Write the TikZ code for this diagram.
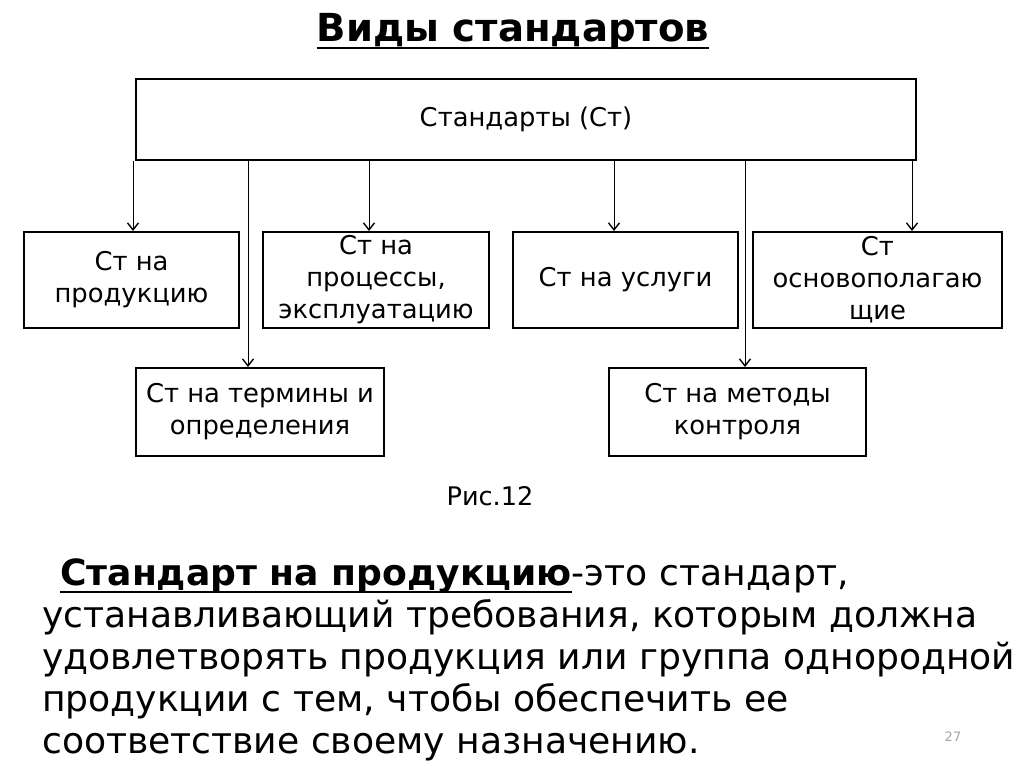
\documentclass[tikz,border=0pt]{standalone}
\usepackage{fontspec}
\setmainfont{DejaVu Sans}
\usetikzlibrary{arrows.meta}
\begin{document}
\begin{tikzpicture}[x=1pt,y=-1pt,
  box/.style={draw=black,line width=2pt,inner sep=0pt,align=center,font=\fontsize{25.8}{32}\selectfont},
  arr/.style={draw=black,line width=1pt,-{Straight Barb[length=7pt,width=11pt,line width=1.4pt]}},
  uline/.style={draw=black,line width=2.8pt},
  para/.style={anchor=base west,inner sep=0pt,font=\fontsize{36.1}{42}\selectfont}]
\useasboundingbox[fill=white] (0,0) rectangle (1024,767);
\node[anchor=base,inner sep=0pt,font=\bfseries\fontsize{38.6}{44}\selectfont] (title) at (513,42) {Виды стандартов};
\draw[uline] ([yshift=-6pt]title.base west) -- ([yshift=-6pt]title.base east);
\node[box,minimum width=780pt,minimum height=81pt] (top) at (526,119.5) {Стандарты (Ст)};
\node[box,minimum width=215pt,minimum height=96pt] (b1) at (131.5,280) {Ст на\\продукцию};
\node[box,minimum width=226pt,minimum height=96pt] (b2) at (376,280) {Ст на\\процессы,\\эксплуатацию};
\node[box,minimum width=225pt,minimum height=96pt] (b3) at (625.5,280) {Ст на услуги};
\node[box,minimum width=249pt,minimum height=96pt] (b4) at (877.5,280) {Ст\\основополагаю\\щие};
\node[box,minimum width=248pt,minimum height=88pt] (b5) at (260,412) {Ст на термины и\\определения};
\node[box,minimum width=257pt,minimum height=88pt] (b6) at (737.5,412) {Ст на методы\\контроля};
\coordinate (x1) at (133,0);
\coordinate (x2) at (248,0);
\coordinate (x3) at (369,0);
\coordinate (x4) at (614,0);
\coordinate (x5) at (745,0);
\coordinate (x6) at (912,0);
\draw[arr] (top.south -| x1) -- (b1.north -| x1);
\draw[arr] (top.south -| x2) -- (b5.north -| x2);
\draw[arr] (top.south -| x3) -- (b2.north -| x3);
\draw[arr] (top.south -| x4) -- (b3.north -| x4);
\draw[arr] (top.south -| x5) -- (b6.north -| x5);
\draw[arr] (top.south -| x6) -- (b4.north -| x6);
\node[anchor=base,inner sep=0pt,font=\fontsize{25.6}{30}\selectfont] (fig) at (490,505) {Рис.12};
\node[para] (l1a) at (60,585) {\textbf{Стандарт на продукцию}};
\draw[uline] ([yshift=-7pt]l1a.base west) -- ([yshift=-7pt]l1a.base east);
\node[para] (l1b) at (l1a.base east) {-это стандарт,};
\node[para] (l2) at (42,627) {устанавливающий требования, которым должна};
\node[para] (l3) at (42,669) {удовлетворять продукция или группа однородной};
\node[para] (l4) at (42,711) {продукции с тем, чтобы обеспечить ее};
\node[para] (l5) at (42,753) {соответствие своему назначению.};
\node[anchor=base,inner sep=0pt,text=black!35,font=\fontsize{13}{15}\selectfont] (pg) at (953,741) {27};
\end{tikzpicture}
\end{document}
